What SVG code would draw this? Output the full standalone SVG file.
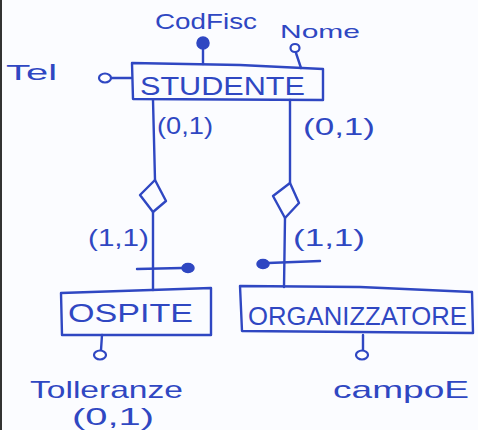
<svg xmlns="http://www.w3.org/2000/svg" width="478" height="430" viewBox="0 0 478 430">
  <defs>
    <style>
      .ink { fill: none; stroke: #2f47c2; stroke-width: 2.4; stroke-linecap: round; stroke-linejoin: round; }
      .dot { fill: #2f47c2; stroke: #2f47c2; stroke-width: 1.5; }
      .ring { fill: #ffffff; stroke: #2f47c2; stroke-width: 2.2; }
      .lbl { font-family: "Liberation Sans", Arial, sans-serif; fill: #2f47c2; }
      .ent { font-size: 26px; }
      .att { font-size: 22px; }
      .card { font-size: 24px; }
    </style>
  </defs>

  <!-- paper -->
  <rect x="0" y="0" width="478" height="430" fill="#fbfcff"/>
  <rect x="0" y="0" width="2" height="430" fill="#333333"/>

  <!-- connectors: entity links, relationship diamonds, attribute stems -->
  <g id="connectors">
    <!-- STUDENTE to OSPITE -->
    <path class="ink" d="M153,100 L155,180"/>
    <path class="ink" d="M153,212 L153,290"/>
    <path class="ink" d="M137,269 L182,268"/>
    <ellipse class="dot" cx="188" cy="268" rx="6" ry="4.5"/>
    <!-- STUDENTE to ORGANIZZATORE -->
    <path class="ink" d="M290,100 L290,183"/>
    <path class="ink" d="M285,218 L284,287"/>
    <path class="ink" d="M268,263 L320,261"/>
    <ellipse class="dot" cx="263" cy="264" rx="6" ry="4.5"/>
    <!-- attribute stems -->
    <path class="ink" d="M203,49 L203,64"/>
    <path class="ink" d="M296,53 L301,68"/>
    <path class="ink" d="M111,78 L131,78"/>
    <path class="ink" d="M102,335 L101,350"/>
    <path class="ink" d="M363,335 L363,350"/>
  </g>

  <!-- relationships -->
  <g id="rel-ospite">
    <path class="ink" d="M155,180 L166,201 L153,212 L140,195 Z"/>
  </g>
  <g id="rel-organizzatore">
    <path class="ink" d="M290,183 L299,203 L285,218 L273,196 Z"/>
  </g>

  <!-- entities -->
  <g id="studente">
    <path class="ink" d="M132,63 L240,65 L323,69 L323,100 L133,99 Z"/>
    <text class="lbl ent" x="140" y="95" textLength="165" lengthAdjust="spacingAndGlyphs">STUDENTE</text>
  </g>
  <g id="ospite">
    <path class="ink" d="M61,293 L211,288 L211,335 L62,335 Z"/>
    <text class="lbl ent" x="68" y="322" textLength="125" lengthAdjust="spacingAndGlyphs">OSPITE</text>
  </g>
  <g id="organizzatore">
    <path class="ink" d="M240,286 L360,287 L472,292 L473,333 L242,331 Z"/>
    <text class="lbl ent" x="248" y="325" textLength="219" lengthAdjust="spacingAndGlyphs">ORGANIZZATORE</text>
  </g>

  <!-- attributes -->
  <g id="attr-codfisc">
    <circle class="dot" cx="203" cy="43" r="6"/>
    <text class="lbl att" x="155" y="29" textLength="102" lengthAdjust="spacingAndGlyphs">CodFisc</text>
  </g>
  <g id="attr-nome">
    <ellipse class="ring" cx="295" cy="48" rx="4.5" ry="4"/>
    <text class="lbl" x="280" y="38" font-size="19" textLength="80" lengthAdjust="spacingAndGlyphs">Nome</text>
  </g>
  <g id="attr-tel">
    <ellipse class="ring" cx="105" cy="78" rx="6" ry="4.5"/>
    <text class="lbl att" x="6" y="80" textLength="51" lengthAdjust="spacingAndGlyphs">Tel</text>
  </g>
  <g id="attr-tolleranze">
    <ellipse class="ring" cx="100" cy="355" rx="6" ry="4.5"/>
    <text class="lbl card" x="30" y="398" textLength="153" lengthAdjust="spacingAndGlyphs">Tolleranze</text>
    <text class="lbl card" x="72" y="425" textLength="82" lengthAdjust="spacingAndGlyphs">(0,1)</text>
  </g>
  <g id="attr-campoe">
    <ellipse class="ring" cx="362" cy="355" rx="6" ry="4.5"/>
    <text class="lbl card" x="333" y="398" textLength="136" lengthAdjust="spacingAndGlyphs">campoE</text>
  </g>

  <!-- cardinalities -->
  <g id="cardinalities">
    <text class="lbl card" x="157" y="134" textLength="56" lengthAdjust="spacingAndGlyphs">(0,1)</text>
    <text class="lbl card" x="303" y="135" textLength="72" lengthAdjust="spacingAndGlyphs">(0,1)</text>
    <text class="lbl card" x="88" y="246" textLength="61" lengthAdjust="spacingAndGlyphs">(1,1)</text>
    <text class="lbl card" x="293" y="246" textLength="72" lengthAdjust="spacingAndGlyphs">(1,1)</text>
  </g>
</svg>
